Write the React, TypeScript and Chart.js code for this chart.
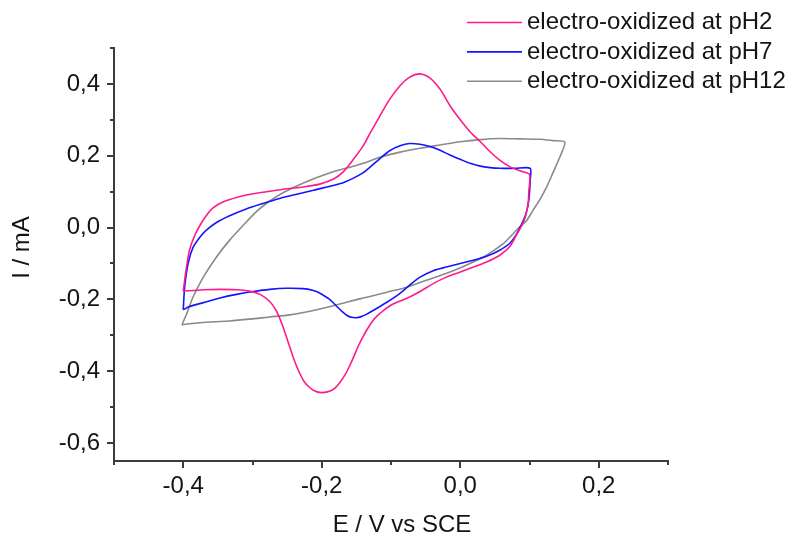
import React, { useEffect, useRef } from 'react';
import { Chart, registerables } from 'chart.js';

Chart.register(...registerables);

// ---------- data ----------
const seriesLabels = ['electro-oxidized at pH2', 'electro-oxidized at pH7', 'electro-oxidized at pH12'];
const seriesColors = ['#ff1a8c', '#1414ff', '#8a8a8a'];

const pH2E = [
  -0.400, -0.396, -0.391, -0.383, -0.374, -0.365, -0.357, -0.342, -0.323, -0.299, -0.275, -0.251, -0.227, -0.203,
  -0.183, -0.169, -0.155, -0.140, -0.131, -0.116, -0.102, -0.087, -0.073, -0.058, -0.044, -0.029, -0.015, 0.000,
  0.014, 0.029, 0.043, 0.057, 0.072, 0.086, 0.100,
  0.099, 0.098, 0.094, 0.089, 0.081, 0.072, 0.057, 0.038, 0.019, 0.000, -0.020, -0.039, -0.058, -0.077, -0.097,
  -0.111, -0.120, -0.126, -0.133, -0.140, -0.147, -0.153, -0.159, -0.166, -0.174, -0.181, -0.188, -0.196, -0.203,
  -0.210, -0.217, -0.225, -0.232, -0.240, -0.248, -0.256, -0.265, -0.275, -0.289, -0.304, -0.323, -0.347, -0.371,
  -0.400,
];
const pH2I = [
  -0.177, -0.119, -0.063, -0.020, 0.012, 0.038, 0.055, 0.072, 0.084, 0.094, 0.101, 0.108, 0.113, 0.121,
  0.135, 0.155, 0.188, 0.228, 0.260, 0.311, 0.357, 0.395, 0.419, 0.428, 0.417, 0.385, 0.340, 0.300,
  0.267, 0.239, 0.211, 0.188, 0.169, 0.158, 0.148,
  0.100, 0.067, 0.030, 0.006, -0.021, -0.052, -0.077, -0.096, -0.110, -0.124, -0.138, -0.156, -0.178, -0.197, -0.213,
  -0.231, -0.246, -0.259, -0.279, -0.302, -0.329, -0.356, -0.382, -0.409, -0.432, -0.447, -0.455, -0.459, -0.459,
  -0.455, -0.446, -0.430, -0.405, -0.368, -0.322, -0.276, -0.234, -0.206, -0.186, -0.177, -0.173, -0.172, -0.173,
  -0.177,
];

const pH7E = [
  -0.400, -0.398, -0.393, -0.386, -0.376, -0.367, -0.352, -0.333, -0.309, -0.285, -0.261, -0.236, -0.212, -0.188,
  -0.169, -0.155, -0.140, -0.131, -0.116, -0.102, -0.087, -0.073, -0.058, -0.044, -0.029, -0.015, 0.000, 0.014,
  0.029, 0.043, 0.057, 0.079, 0.101,
  0.101, 0.099, 0.095, 0.089, 0.081, 0.072, 0.057, 0.038, 0.019, 0.000, -0.020, -0.039, -0.058, -0.073, -0.087,
  -0.106, -0.126, -0.135, -0.143, -0.150, -0.157, -0.164, -0.170, -0.177, -0.183, -0.190, -0.198, -0.205, -0.212,
  -0.227, -0.251, -0.275, -0.299, -0.323, -0.347, -0.371, -0.391, -0.400,
];
const pH7I = [
  -0.229, -0.166, -0.100, -0.056, -0.027, -0.008, 0.014, 0.033, 0.052, 0.067, 0.081, 0.093, 0.104, 0.115,
  0.125, 0.137, 0.153, 0.167, 0.192, 0.214, 0.228, 0.234, 0.232, 0.226, 0.215, 0.202, 0.190, 0.179,
  0.171, 0.167, 0.165, 0.165, 0.165,
  0.132, 0.076, 0.039, 0.011, -0.019, -0.043, -0.063, -0.080, -0.091, -0.100, -0.110, -0.120, -0.138, -0.160, -0.183,
  -0.208, -0.231, -0.241, -0.248, -0.251, -0.250, -0.244, -0.235, -0.222, -0.210, -0.198, -0.188, -0.180, -0.175,
  -0.170, -0.169, -0.172, -0.178, -0.186, -0.196, -0.209, -0.220, -0.229,
];

const pH12E = [
  -0.402, -0.395, -0.386, -0.371, -0.352, -0.333, -0.314, -0.294, -0.275, -0.256, -0.236, -0.217, -0.198, -0.179,
  -0.159, -0.140, -0.116, -0.087, -0.058, -0.029, 0.000, 0.029, 0.057, 0.086, 0.115, 0.134, 0.151,
  0.144, 0.134, 0.125, 0.115, 0.105, 0.096, 0.086, 0.076, 0.062, 0.038, 0.014, -0.015, -0.049, -0.077, -0.106,
  -0.135, -0.159, -0.188, -0.217, -0.246, -0.275, -0.304, -0.333, -0.362, -0.391, -0.402,
];
const pH12I = [
  -0.271, -0.240, -0.194, -0.138, -0.082, -0.035, 0.005, 0.045, 0.074, 0.097, 0.116, 0.132, 0.146, 0.158,
  0.168, 0.179, 0.196, 0.210, 0.221, 0.230, 0.239, 0.245, 0.248, 0.247, 0.246, 0.242, 0.238,
  0.197, 0.153, 0.114, 0.078, 0.048, 0.020, 0.002, -0.018, -0.045, -0.077, -0.100, -0.124, -0.147, -0.166, -0.180,
  -0.194, -0.205, -0.220, -0.233, -0.243, -0.249, -0.255, -0.260, -0.263, -0.268, -0.271,
];

const xMajorTicks = [-0.4, -0.2, 0.0, 0.2];
const xMinorTicks = [-0.5, -0.3, -0.1, 0.1, 0.3];
const yMajorTicks = [-0.6, -0.4, -0.2, 0.0, 0.2, 0.4];
const yMinorTicks = [-0.5, -0.3, -0.1, 0.1, 0.3, 0.5];
const xRange = [-0.5, 0.3];
const yRange = [-0.65, 0.5];
const xTitle = 'E / V vs SCE';
const yTitle = 'I / mA';

// ---------- helpers ----------
const FONT = '"Liberation Sans", Arial, sans-serif';
const TEXT = '#141414';
const AXIS = '#3c3c3c';

const toPoints = (xs: number[], ys: number[]) => xs.map((x, i) => ({ x, y: ys[i] }));
const fmt = (v: number) => {
  const r = Math.round(v * 10) / 10 + 0;
  return r.toFixed(1).replace('.', ',');
};
const isMajor = (v: number, majors: number[]) => majors.some((m) => Math.abs(m - v) < 1e-6);

const tickPlugin = {
  id: 'customTicks',
  afterDraw(chart: any) {
    const { ctx, chartArea, scales } = chart;
    const xs = scales.x;
    const ys = scales.y;
    ctx.save();
    ctx.strokeStyle = AXIS;
    ctx.lineWidth = 2;
    const bottom = chartArea.bottom;
    const left = chartArea.left;
    const drawX = (v: number, len: number) => {
      const p = Math.round(xs.getPixelForValue(v));
      ctx.beginPath();
      ctx.moveTo(p, bottom);
      ctx.lineTo(p, bottom + len);
      ctx.stroke();
    };
    const drawY = (v: number, len: number) => {
      const p = Math.round(ys.getPixelForValue(v));
      ctx.beginPath();
      ctx.moveTo(left, p);
      ctx.lineTo(left - len, p);
      ctx.stroke();
    };
    xMajorTicks.forEach((v) => drawX(v, 7));
    xMinorTicks.forEach((v) => drawX(v, 4));
    yMajorTicks.forEach((v) => drawY(v, 7));
    yMinorTicks.forEach((v) => drawY(v, 4));

    // axis titles
    ctx.fillStyle = TEXT;
    ctx.font = `24px ${FONT}`;
    ctx.textAlign = 'center';
    ctx.textBaseline = 'middle';
    ctx.fillText(xTitle, (chartArea.left + chartArea.right) / 2 + 11, 525);
    ctx.save();
    ctx.translate(22.5, (chartArea.top + chartArea.bottom) / 2 - 7);
    ctx.rotate(-Math.PI / 2);
    ctx.fillText(yTitle, 0, 0);
    ctx.restore();
    ctx.restore();
  },
};

const legendPlugin = {
  id: 'cvLegend',
  afterDraw(chart: any) {
    const { ctx } = chart;
    ctx.save();
    chart.data.datasets.forEach((ds: any, i: number) => {
      const y = 22.5 + i * 29.4;
      ctx.strokeStyle = ds.borderColor;
      ctx.lineWidth = 1.6;
      ctx.beginPath();
      ctx.moveTo(467, y);
      ctx.lineTo(522, y);
      ctx.stroke();
      ctx.fillStyle = TEXT;
      ctx.font = `24px ${FONT}`;
      ctx.textBaseline = 'middle';
      ctx.textAlign = 'left';
      ctx.fillText(ds.label, 527, y);
    });
    ctx.restore();
  },
};

export default function App() {
  const canvasRef = useRef<HTMLCanvasElement | null>(null);

  useEffect(() => {
    if (!canvasRef.current) return;
    const series = [
      toPoints(pH2E, pH2I),
      toPoints(pH7E, pH7I),
      toPoints(pH12E, pH12I),
    ];
    const chart = new Chart(canvasRef.current, {
      type: 'scatter',
      data: {
        datasets: series.map((pts, i) => ({
          label: seriesLabels[i],
          data: pts,
          showLine: true,
          borderColor: seriesColors[i],
          backgroundColor: seriesColors[i],
          borderWidth: 1.6,
          pointRadius: 0,
          pointHoverRadius: 0,
          tension: 0.25,
          fill: false,
        })),
      },
      options: {
        responsive: false,
        animation: false,
        events: [],
        layout: { padding: { top: 48, right: 125, left: 0, bottom: 0 } },
        plugins: {
          legend: { display: false },
          tooltip: { enabled: false },
        },
        scales: {
          x: {
            type: 'linear',
            min: xRange[0],
            max: xRange[1],
            afterBuildTicks: (scale: any) => {
              scale.ticks = [...xMajorTicks, ...xMinorTicks].sort((a, b) => a - b).map((v) => ({ value: v }));
            },
            afterFit: (scale: any) => {
              scale.height = 75;
            },
            ticks: {
              autoSkip: false,
              maxRotation: 0,
              padding: 4,
              color: TEXT,
              font: { family: FONT, size: 24 },
              callback: (v: any) => (isMajor(Number(v), xMajorTicks) ? fmt(Number(v)) : ''),
            },
            grid: { drawOnChartArea: false, drawTicks: true, tickLength: 7, tickColor: 'rgba(0,0,0,0)' },
            border: { display: true, color: AXIS, width: 2 },
            title: { display: false, text: xTitle },
          },
          y: {
            type: 'linear',
            min: yRange[0],
            max: yRange[1],
            afterBuildTicks: (scale: any) => {
              scale.ticks = [...yMajorTicks, ...yMinorTicks].sort((a, b) => a - b).map((v) => ({ value: v }));
            },
            afterFit: (scale: any) => {
              scale.width = 114;
            },
            ticks: {
              autoSkip: false,
              padding: 7,
              color: TEXT,
              font: { family: FONT, size: 24 },
              callback: (v: any) => (isMajor(Number(v), yMajorTicks) ? fmt(Number(v)) : ''),
            },
            grid: { drawOnChartArea: false, drawTicks: true, tickLength: 7, tickColor: 'rgba(0,0,0,0)' },
            border: { display: true, color: AXIS, width: 2 },
            title: { display: false, text: yTitle },
          },
        },
      },
      plugins: [tickPlugin, legendPlugin],
    } as any);
    return () => chart.destroy();
  }, []);

  return (
    <div style={{ position: 'fixed', left: 0, top: 0, width: 793, height: 536, background: '#fff' }}>
      <canvas ref={canvasRef} width={793} height={536} style={{ width: 793, height: 536, display: 'block' }} />
    </div>
  );
}
